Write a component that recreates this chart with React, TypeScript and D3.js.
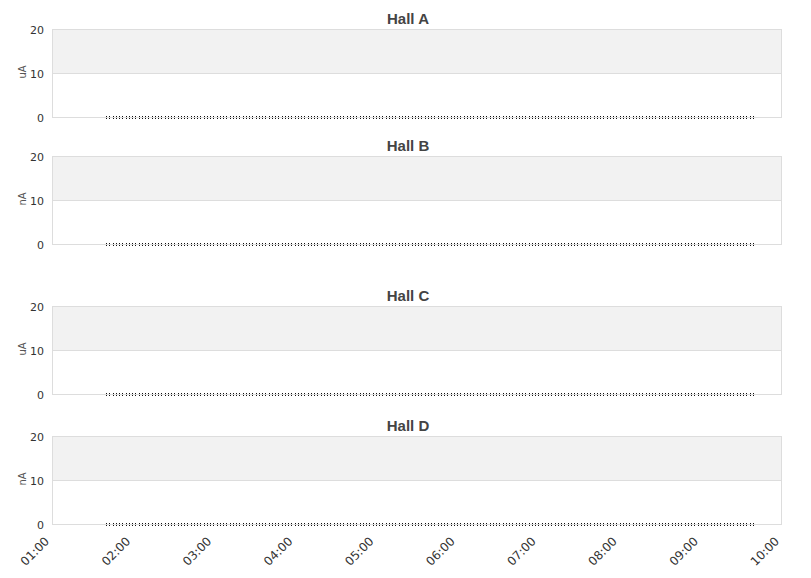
import React from "react";
import * as d3 from "d3";

const halls = ["Hall A", "Hall B", "Hall C", "Hall D"];
const units = ["uA", "nA", "uA", "nA"];
const yTicks = [0, 10, 20];
const xTickLabels = ["01:00", "02:00", "03:00", "04:00", "05:00", "06:00", "07:00", "08:00", "09:00", "10:00"];
const seriesStart = "01:40";
const seriesEnd = "09:40";
const seriesStepMinutes = 2;
const seriesValue = 0; // every reading is 0 in all four halls

const W = 811;
const H = 578;
const left = 52;
const right = 782;
const panelTops = [29, 156, 306, 436];
const panelH = 88;

const parse = (s: string) => {
  const [h, m] = s.split(":").map(Number);
  return new Date(Date.UTC(2020, 0, 1, h, m));
};

const times = d3.utcMinute.every(seriesStepMinutes)!.range(parse(seriesStart), d3.utcMinute.offset(parse(seriesEnd), 1));
const data = times.map((t) => ({ t, v: seriesValue }));

export default function App() {
  const x = d3
    .scaleUtc()
    .domain([parse(xTickLabels[0]), parse(xTickLabels[xTickLabels.length - 1])])
    .range([left, right]);
  const fmt = d3.utcFormat("%H:%M");
  const tickFont = "DejaVu Sans, sans-serif";
  return (
    <svg width={W} height={H} style={{ position: "absolute", left: 0, top: 0, background: "#fff" }}>
      {halls.map((hall, i) => {
        const top = panelTops[i];
        const y = d3.scaleLinear().domain([0, 20]).range([top + panelH, top]);
        const line = d3
          .line<{ t: Date; v: number }>()
          .x((d) => x(d.t))
          .y((d) => y(d.v));
        const d = line(data) || "";
        return (
          <g key={hall}>
            <rect x={left} y={y(20)} width={right - left} height={y(10) - y(20)} fill="#f2f2f2" />
            <line x1={left} x2={right} y1={y(10) + 0.5} y2={y(10) + 0.5} stroke="#dddddd" />
            <rect
              x={left + 0.5}
              y={top + 0.5}
              width={right - left - 1}
              height={panelH}
              fill="none"
              stroke="#dddddd"
            />
            {yTicks.map((t) => (
              <text
                key={t}
                x={44}
                y={y(t) + 1}
                dy="0.35em"
                textAnchor="end"
                fontFamily={tickFont}
                fontSize={11}
                fill="#333"
              >
                {t}
              </text>
            ))}
            <text
              transform={`translate(${26},${y(10) - 1}) rotate(-90)`}
              textAnchor="middle"
              fontFamily={tickFont}
              fontSize={10}
              fill="#555"
            >
              {units[i]}
            </text>
            <text
              x={408}
              y={top - 5}
              textAnchor="middle"
              fontFamily="Liberation Sans, Arial, sans-serif"
              fontWeight="bold"
              fontSize={15}
              fill="#444"
            >
              {hall}
            </text>
            <path
              d={d}
              transform="translate(0,-0.5)"
              fill="none"
              stroke="#111"
              strokeWidth={1}
              strokeDasharray="1,2.25"
              shapeRendering="crispEdges"
            />
            <path
              d={d}
              transform="translate(0,1.5)"
              fill="none"
              stroke="#111"
              strokeWidth={1}
              strokeDasharray="1,2.25"
              shapeRendering="crispEdges"
            />
          </g>
        );
      })}
      {xTickLabels.map((lbl) => {
        const px = x(parse(lbl));
        return (
          <text
            key={lbl}
            transform={`translate(${px - 2},${542}) rotate(-45)`}
            textAnchor="end"
            fontFamily={tickFont}
            fontSize={12}
            fill="#333"
          >
            {fmt(parse(lbl))}
          </text>
        );
      })}
    </svg>
  );
}
